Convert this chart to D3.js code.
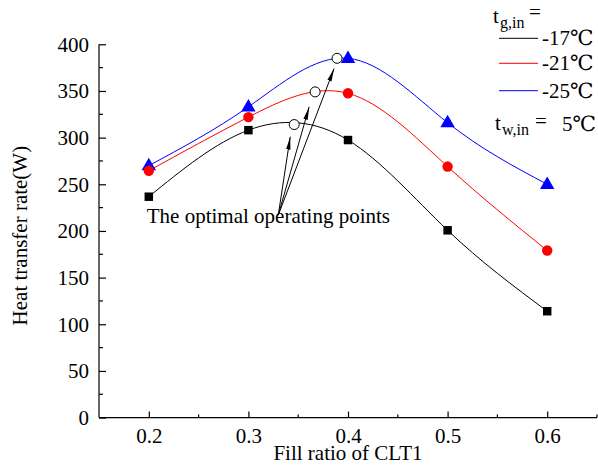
<!DOCTYPE html>
<html>
<head>
<meta charset="utf-8">
<script src="https://cdn.jsdelivr.net/npm/d3@7"></script>
<style>
html,body{margin:0;padding:0;background:#fff;}
svg{display:block;}
text{font-family:"Liberation Serif","Times New Roman","DejaVu Serif",serif;fill:#000;}
</style>
</head>
<body>
<svg id="chart" width="598" height="471"></svg>
<script>
// ---- data ----
const fillRatios = [0.2, 0.3, 0.4, 0.5, 0.6];
const seriesNames = ["-17℃", "-21℃", "-25℃"];
const seriesColors = ["#000000", "#ff0000", "#0000ff"];
const seriesSymbols = ["square", "circle", "triangle"];
const valuesM17 = [236.7, 308, 297.4, 200.7, 114];
const valuesM21 = [264.5, 322, 347.5, 269, 179];
const valuesM25 = [270, 333, 385, 316, 250];
const optimalX = [0.346, 0.367, 0.389];
const optimalY = [314, 349, 385];
const arrowFrom = [0.330, 217];
const arrowTipX = [0.342, 0.361, 0.386];
const arrowTipY = [301, 333, 374];
const xTicks = [0.2, 0.3, 0.4, 0.5, 0.6];
const xMinor = [0.25, 0.35, 0.45, 0.55, 0.65];
const yTicks = [0, 50, 100, 150, 200, 250, 300, 350, 400];
const yMinor = [25, 75, 125, 175, 225, 275, 325, 375];
const annotationText = "The optimal operating points";
const annotationPos = [0.198, 208];

const FONT = '"Liberation Serif","Times New Roman","DejaVu Serif",serif';
const svg = d3.select("#chart");
const x = d3.scaleLinear().domain([0.15, 0.65]).range([99, 597]);
const y = d3.scaleLinear().domain([0, 400]).range([417.6, 44.3]);

const fs = 21;

// axes
const xAxis = d3.axisBottom(x).tickValues(xTicks).tickSize(-6).tickPadding(10).tickFormat(d3.format(".1f"));
const gx = svg.append("g").attr("transform", `translate(0,${y(0)})`).call(xAxis);
const yAxis = d3.axisLeft(y).tickValues(yTicks).tickSize(-7).tickPadding(10).tickFormat(d3.format("d"));
const gy = svg.append("g").attr("transform", `translate(${x(0.15)},0)`).call(yAxis);
[gx, gy].forEach(g => {
  g.attr("font-family", FONT).attr("font-size", fs);
  g.select(".domain").attr("stroke", "#000").attr("stroke-width", 1.2);
  g.selectAll(".tick line").attr("stroke", "#000").attr("stroke-width", 1.2);
  g.selectAll(".tick text").attr("font-family", FONT).style("font-family", FONT)
    .style("font-size", fs + "px").attr("fill", "#000");
});
gx.select(".domain").attr("d", `M${x(0.15)},0H${x(0.65)}`);
gy.select(".domain").attr("d", `M0,${y(0)}V${y(400)}`);
gx.selectAll(".tick text").attr("dy", "0.71em").attr("y", 10);
// minor ticks
svg.append("g").selectAll("line").data(xMinor).join("line")
  .attr("x1", d => x(d)).attr("x2", d => x(d)).attr("y1", y(0)).attr("y2", y(0) - 3)
  .attr("stroke", "#000").attr("stroke-width", 1.2);
svg.append("g").selectAll("line").data(yMinor).join("line")
  .attr("x1", x(0.15)).attr("x2", x(0.15) + 4).attr("y1", d => y(d)).attr("y2", d => y(d))
  .attr("stroke", "#000").attr("stroke-width", 1.2);

// axis titles
svg.append("text").attr("x", x(0.4)).attr("y", 460)
  .attr("text-anchor", "middle").style("font-size", fs + "px").text("Fill ratio of CLT1");
svg.append("text").attr("transform", `translate(27,${y(195)}) rotate(-90)`)
  .attr("text-anchor", "middle").style("font-size", fs + "px").text("Heat transfer rate(W)");

// series
const allValues = [valuesM17, valuesM21, valuesM25];
const line = d3.line().x((d, i) => x(fillRatios[i])).y(d => y(d)).curve(d3.curveNatural);
const drawOrder = [0, 2, 1];
drawOrder.forEach(k => {
  svg.append("path").datum(allValues[k]).attr("d", line)
    .attr("fill", "none").attr("stroke", seriesColors[k]).attr("stroke-width", 1);
});
const symTypes = {square: d3.symbolSquare, circle: d3.symbolCircle, triangle: d3.symbolTriangle};
const symSizes = {square: 72, circle: 85, triangle: 90};
drawOrder.forEach(k => {
  const sym = d3.symbol().type(symTypes[seriesSymbols[k]]).size(symSizes[seriesSymbols[k]]);
  svg.append("g").selectAll("path").data(allValues[k]).join("path")
    .attr("d", sym)
    .attr("transform", (d, i) => `translate(${x(fillRatios[i])},${y(d) + (seriesSymbols[k] === "triangle" ? 0.5 : 0)})`)
    .attr("fill", seriesColors[k]);
});

// optimal points
svg.append("g").selectAll("circle").data(optimalX).join("circle")
  .attr("cx", d => x(d)).attr("cy", (d, i) => y(optimalY[i])).attr("r", 5)
  .attr("fill", "#fff").attr("stroke", "#000").attr("stroke-width", 1);

// arrows
const defs = svg.append("defs");
defs.append("marker").attr("id", "arr").attr("viewBox", "0 0 13 6").attr("refX", 13).attr("refY", 3)
  .attr("markerWidth", 13).attr("markerHeight", 6).attr("markerUnits", "userSpaceOnUse").attr("orient", "auto")
  .append("path").attr("d", "M0,0.8L13,3L0,5.2Z").attr("fill", "#000");
svg.append("g").selectAll("line").data(arrowTipX).join("line")
  .attr("x1", x(arrowFrom[0])).attr("y1", y(arrowFrom[1]))
  .attr("x2", d => x(d)).attr("y2", (d, i) => y(arrowTipY[i]))
  .attr("stroke", "#000").attr("stroke-width", 1).attr("marker-end", "url(#arr)");

svg.append("text").attr("x", x(annotationPos[0])).attr("y", y(annotationPos[1]))
  .style("font-size", fs + "px").text(annotationText);

// legend
const lg = svg.append("g");
lg.append("text").attr("x", 493).attr("y", 23).style("font-size", fs + "px").text("t");
lg.append("text").attr("x", 500).attr("y", 28).style("font-size", "16px").text("g,in");
lg.append("text").attr("x", 529).attr("y", 19).style("font-size", fs + "px").text("=");
const legY = [38.3, 63.3, 90.7];
seriesNames.forEach((n, k) => {
  lg.append("line").attr("x1", 499).attr("x2", 538).attr("y1", legY[k]).attr("y2", legY[k])
    .attr("stroke", seriesColors[k]).attr("stroke-width", 1);
  lg.append("text").attr("x", 542).attr("y", legY[k] + 7).style("font-size", fs + "px").text(n);
});
lg.append("text").attr("x", 495).attr("y", 130).style("font-size", fs + "px").text("t");
lg.append("text").attr("x", 502).attr("y", 135).style("font-size", "16px").text("w,in");
lg.append("text").attr("x", 535).attr("y", 128).style("font-size", fs + "px").text("=");
lg.append("text").attr("x", 562).attr("y", 131).style("font-size", fs + "px").text("5℃");
</script>
</body>
</html>
